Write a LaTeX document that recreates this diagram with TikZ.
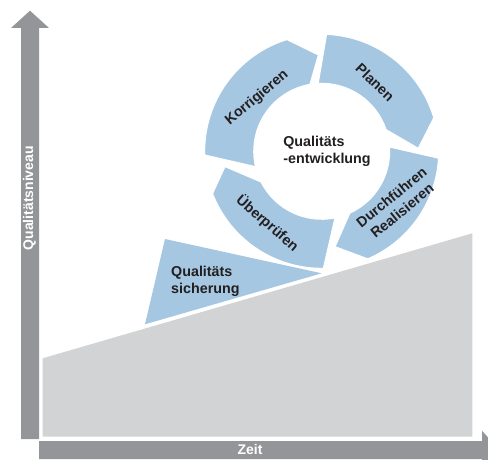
\documentclass[tikz,border=0pt]{standalone}
\usepackage{fontspec}
\setmainfont{Liberation Sans}
\definecolor{axisgrey}{HTML}{939598}
\definecolor{areagrey}{HTML}{D1D3D4}
\definecolor{cycleblue}{HTML}{A5C7E2}
\definecolor{labelblack}{HTML}{231F20}
\begin{document}
\begin{tikzpicture}[x=1pt,y=1pt,
  axisfill/.style={fill=axisgrey},
  seg/.style={fill=cycleblue, draw=white, line width=1pt, line join=miter},
  lbl/.style={font=\fontsize{14.3}{16.8}\selectfont\bfseries, text=labelblack, inner sep=0pt, align=center},
  axlbl/.style={font=\fontsize{14}{16}\selectfont\bfseries, text=white, inner sep=0pt}]
\clip (0,0) rectangle (488,459);

% axes
\fill[axisfill] (21,20) -- (21,431) -- (11,431) -- (30,448.3) -- (49,431) -- (39,431) -- (39,20) -- cycle;
\fill[axisfill] (39,0) -- (39,18) -- (482,18) -- (482,28.3) -- (499.3,9) -- (482,-10.3) -- (482,0) -- cycle;
\node[axlbl, rotate=90] (yl) at (29.5,260.7) {Qualitätsniveau};
\node[axlbl] (xl) at (250,9.5) {Zeit};

% rising quality level
\fill[areagrey] (42.7,22.3) -- (42.7,100.7) -- (472.3,225.7) -- (472.3,22.3) -- cycle;

% quality assurance wedge
\fill[cycleblue] (165,220) -- (145,134.7) -- (321.7,185.7) -- cycle;
\node[lbl, anchor=west, align=left] (qs) at (171,177.6) {Qualitäts\\sicherung};

% improvement cycle
\begin{scope}[shift={(321.7,307.7)}]
  \path[seg] (87.6:117) arc[start angle=87.6, end angle=16.7, radius=117]
    -- (1.8:96.6) -- (18.6:68) arc[start angle=18.6, end angle=92.9, radius=68] -- cycle;
  \path[seg] (-3.4:117) arc[start angle=-3.4, end angle=-66.8, radius=117]
    -- (-82:96.3) -- (-65.5:68) arc[start angle=-65.5, end angle=3.6, radius=68] -- cycle;
  \path[seg] (-89.2:117) arc[start angle=-89.2, end angle=-158.8, radius=117]
    -- (-171:97.9) -- (-153.1:68) arc[start angle=-153.1, end angle=-78.8, radius=68] -- cycle;
  \path[seg] (181.8:117) arc[start angle=181.8, end angle=107.3, radius=117]
    -- (92:96.4) -- (100:68) arc[start angle=100, end angle=193, radius=68] -- cycle;
\end{scope}

\node[lbl, rotate=40] (korr) at (257,361) {Korrigieren};
\node[lbl, rotate=-44] (plan) at (375,376.5) {Planen};
\node[lbl, rotate=39] (durch) at (396.7,255) {Durchführen\\Realisieren};
\node[lbl, rotate=-41] (pruef) at (267.5,235.7) {Überprüfen};
\node[lbl, align=left] (mid) at (327,308) {Qualitäts\\-entwicklung};
\end{tikzpicture}
\end{document}
